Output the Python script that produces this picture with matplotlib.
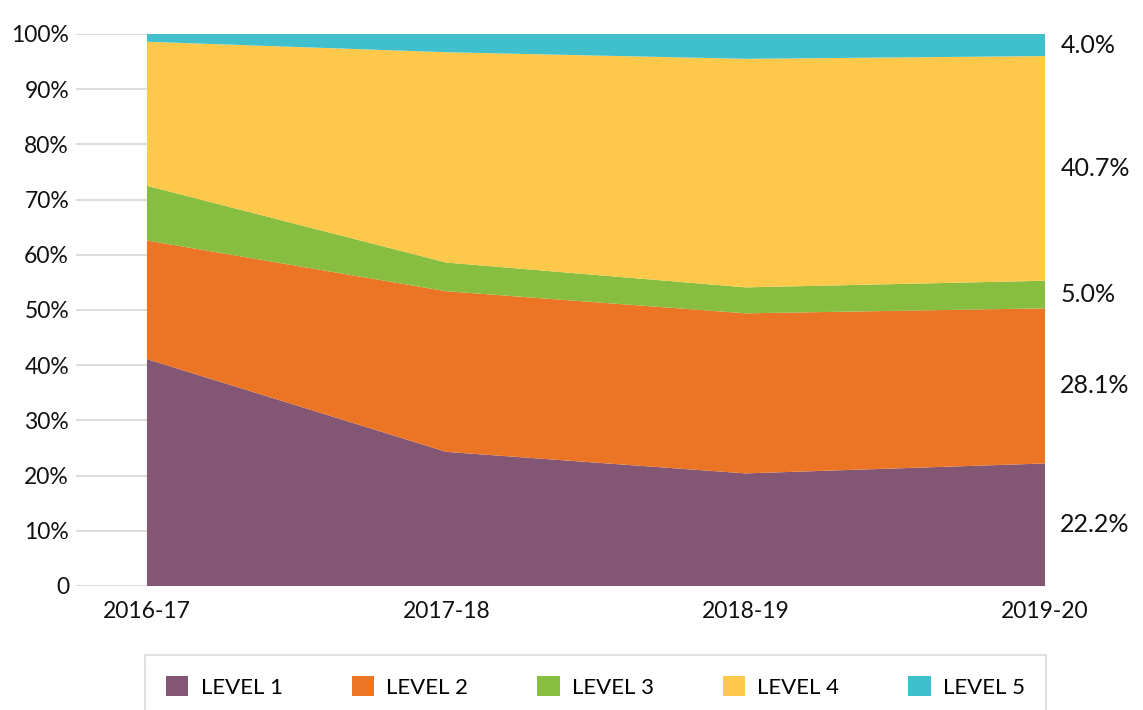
import matplotlib
matplotlib.use("Agg")
import matplotlib.pyplot as plt
from matplotlib.ticker import FixedLocator

# data (share of pupils per level, %)
years = ["2016-17", "2017-18", "2018-19", "2019-20"]
level1 = [41.1, 24.3, 20.4, 22.2]
level2 = [21.5, 29.1, 29.0, 28.1]
level3 = [9.9, 5.2, 4.7, 5.0]
level4 = [26.1, 38.1, 41.4, 40.7]
level5 = [1.4, 3.3, 4.5, 4.0]
level_names = ["LEVEL 1", "LEVEL 2", "LEVEL 3", "LEVEL 4", "LEVEL 5"]
colors = ["#835673", "#EB7524", "#88BE3F", "#FEC84A", "#40C0CC"]

plt.rcParams['font.family'] = ['Lato', 'DejaVu Sans']

fig = plt.figure(figsize=(11.43, 7.10), dpi=100)
# axes spans from where the gridlines start (x=76px) to the right edge of the areas
ax = fig.add_axes([76 / 1143, 124 / 710, (1045 - 76) / 1143, (586 - 34) / 710])

x = list(range(len(years)))
series = [level1, level2, level3, level4, level5]
ax.stackplot(x, *series, colors=colors, labels=level_names, zorder=2)

# gridlines only visible to the left of the areas
ax.set_xlim(-0.237, 3)
ax.set_ylim(0, 100)
ax.yaxis.set_major_locator(FixedLocator(range(0, 101, 10)))
ax.set_yticklabels(["0"] + [f"{v}%" for v in range(10, 101, 10)])
ax.grid(axis='y', color='#d9d9d9', linewidth=1.3, zorder=0)
ax.set_axisbelow(True)
ax.set_xticks(x)
ax.set_xticklabels(years)
ax.tick_params(axis='both', length=0, labelsize=16.5, colors='#111111')
ax.tick_params(axis='y', pad=5)
ax.tick_params(axis='x', pad=11)
for s in ax.spines.values():
    s.set_visible(False)

# value labels for the last year, centred in each band
bottom = 0
for vals in series:
    v = vals[-1]
    ax.annotate(f"{v:.1f}%", xy=(x[-1], bottom + v / 2), xytext=(11, 0),
                textcoords='offset points', ha='left', va='center',
                fontsize=18, color='#111111', annotation_clip=False)
    bottom += v

leg = fig.legend(loc='upper left',
                 bbox_to_anchor=(145 / 1143, 55 / 710, 901 / 1143, 0.0),
                 ncol=5, mode='expand', fontsize=16, frameon=True,
                 fancybox=False, handlelength=1.0, handleheight=1.0,
                 handletextpad=0.55, borderpad=0.95, borderaxespad=0)
leg.get_frame().set_edgecolor('#d9d9d9')
leg.get_frame().set_linewidth(1.5)

fig.savefig("out.png", dpi=100)
